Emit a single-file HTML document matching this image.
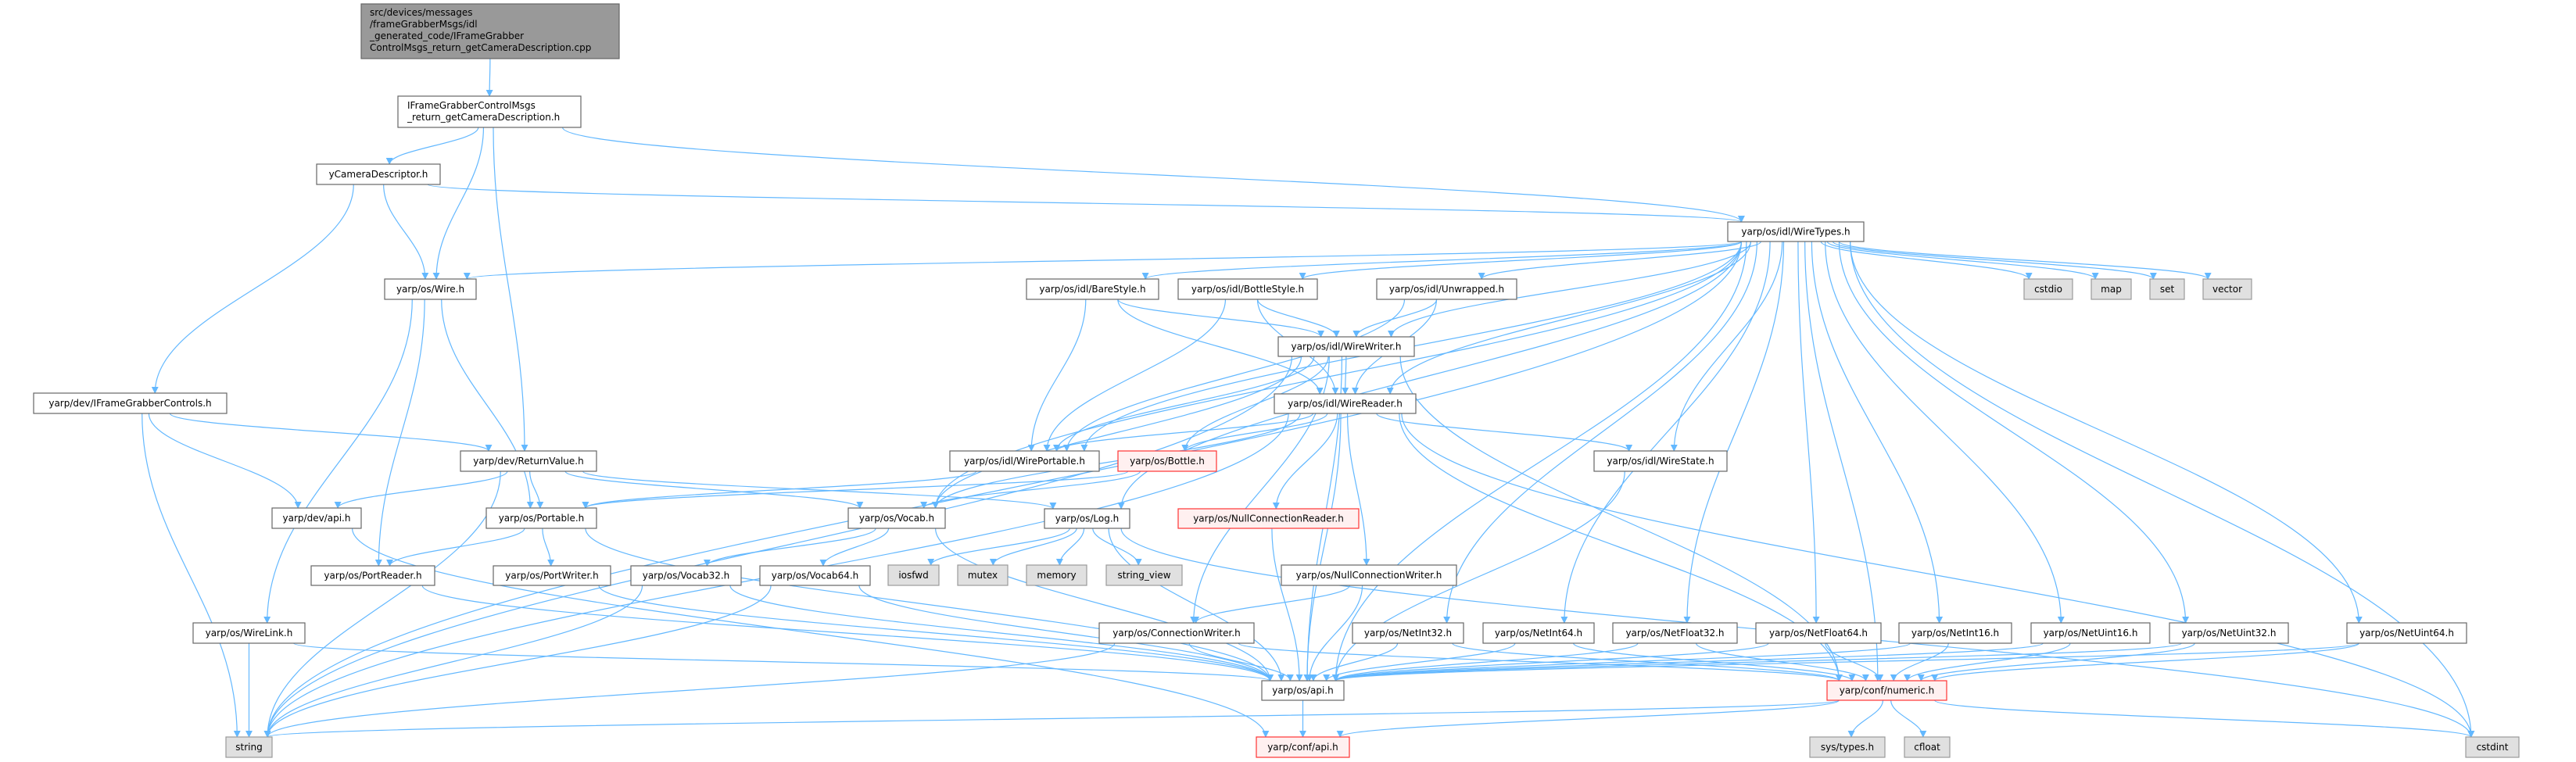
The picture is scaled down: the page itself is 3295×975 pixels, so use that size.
<!DOCTYPE html>
<html><head><meta charset="utf-8"><style>
html,body{margin:0;padding:0;background:#fff;}
svg{display:block;}
text{font-family:"DejaVu Sans","Liberation Sans",sans-serif;font-size:12px;fill:#000;}
.n{fill:#fff;stroke:#666;stroke-width:1.2}
.g{fill:#e0e0e0;stroke:#999;stroke-width:1.2}
.r{fill:#fff0f0;stroke:#f33;stroke-width:1.2}
.t{fill:#999;stroke:#666;stroke-width:1.2}
.e{fill:none;stroke:#63b8ff;stroke-width:1.2}
</style></head><body>
<svg id="s" width="3295" height="975" viewBox="0 0 3295 975" xmlns="http://www.w3.org/2000/svg">
<defs><marker id="a" viewBox="0 0 10 10" refX="9" refY="5" markerWidth="9" markerHeight="9" markerUnits="userSpaceOnUse" orient="auto"><path d="M0,0 L10,5 L0,10 z" fill="#63b8ff"/></marker></defs>
<g id="edges"></g>
<g id="nodes">
<rect class="t" x="462" y="5" width="330" height="70"/>
<text x="473" y="20">src/devices/messages</text>
<text x="473" y="35">/frameGrabberMsgs/idl</text>
<text x="473" y="50">_generated_code/IFrameGrabber</text>
<text x="473" y="65">ControlMsgs_return_getCameraDescription.cpp</text>
<rect class="n" x="509" y="123" width="234" height="40"/>
<text x="521" y="139">IFrameGrabberControlMsgs</text>
<text x="521" y="154">_return_getCameraDescription.h</text>
</g>
</svg>
<script>
var N={
ycam:[405,210,563,236,"yCameraDescriptor.h","n"],
wire:[492,357,609,383,"yarp/os/Wire.h","n"],
ifgc:[43,503,290,529,"yarp/dev/IFrameGrabberControls.h","n"],
rv:[589,577,763,603,"yarp/dev/ReturnValue.h","n"],
devapi:[348,650,462,676,"yarp/dev/api.h","n"],
portable:[622,650,763,676,"yarp/os/Portable.h","n"],
preader:[398,724,556,749,"yarp/os/PortReader.h","n"],
pwriter:[631,724,781,749,"yarp/os/PortWriter.h","n"],
v32:[807,724,948,749,"yarp/os/Vocab32.h","n"],
v64:[972,724,1113,749,"yarp/os/Vocab64.h","n"],
wlink:[247,797,390,823,"yarp/os/WireLink.h","n"],
string:[289,943,348,969,"string","g"],
vocab:[1085,650,1209,676,"yarp/os/Vocab.h","n"],
bare:[1313,357,1482,383,"yarp/os/idl/BareStyle.h","n"],
bottles:[1507,357,1685,383,"yarp/os/idl/BottleStyle.h","n"],
unwr:[1761,357,1940,383,"yarp/os/idl/Unwrapped.h","n"],
ww:[1635,431,1809,456,"yarp/os/idl/WireWriter.h","n"],
wr:[1630,504,1811,529,"yarp/os/idl/WireReader.h","n"],
wt:[2210,284,2384,309,"yarp/os/idl/WireTypes.h","n"],
cstdio:[2589,357,2651,383,"cstdio","g"],
map:[2675,357,2726,383,"map","g"],
set:[2750,357,2794,383,"set","g"],
vector:[2818,357,2880,383,"vector","g"],
wp:[1215,577,1406,603,"yarp/os/idl/WirePortable.h","n"],
bottle:[1430,577,1556,603,"yarp/os/Bottle.h","r"],
ws:[2039,577,2209,603,"yarp/os/idl/WireState.h","n"],
log:[1336,651,1445,676,"yarp/os/Log.h","n"],
ncr:[1507,651,1738,676,"yarp/os/NullConnectionReader.h","r"],
iosfwd:[1136,723,1201,749,"iosfwd","g"],
mutex:[1225,723,1289,749,"mutex","g"],
memory:[1313,723,1390,749,"memory","g"],
sv:[1415,723,1512,749,"string_view","g"],
ncw:[1639,723,1863,749,"yarp/os/NullConnectionWriter.h","n"],
cw:[1406,797,1604,823,"yarp/os/ConnectionWriter.h","n"],
ni32:[1730,797,1872,823,"yarp/os/NetInt32.h","n"],
ni64:[1897,797,2039,823,"yarp/os/NetInt64.h","n"],
nf32:[2063,797,2222,823,"yarp/os/NetFloat32.h","n"],
nf64:[2246,797,2406,823,"yarp/os/NetFloat64.h","n"],
ni16:[2429,797,2573,823,"yarp/os/NetInt16.h","n"],
nu16:[2598,797,2750,823,"yarp/os/NetUint16.h","n"],
nu32:[2775,797,2927,823,"yarp/os/NetUint32.h","n"],
nu64:[3002,797,3155,823,"yarp/os/NetUint64.h","n"],
osapi:[1614,871,1719,896,"yarp/os/api.h","n"],
confapi:[1607,943,1726,969,"yarp/conf/api.h","r"],
numeric:[2337,871,2490,896,"yarp/conf/numeric.h","r"],
systypes:[2315,943,2411,969,"sys/types.h","g"],
cfloat:[2436,943,2494,969,"cfloat","g"],
cstdint:[3154,943,3222,969,"cstdint","g"],
top:[462,5,792,75],ret:[509,123,743,163]
};
var E="top ret|ret ycam|ret wire|ret rv|ret wt|ycam wire|ycam ifgc|ycam wt|ifgc string|ifgc devapi|ifgc rv|rv string|rv devapi|rv portable|rv vocab|rv log|wire wlink|wire preader|wire portable|devapi confapi|portable preader|portable pwriter|portable osapi|preader osapi|pwriter osapi|v32 string|v32 osapi|v64 string|v64 osapi|wlink string|wlink osapi|vocab v32|vocab v64|vocab osapi|log iosfwd|log mutex|log memory|log sv|log osapi|log cstdint|wt string|wt wire|wt bare|wt bottles|wt unwr|wt ww|wt wr|wt wp|wt ws|wt log|wt vocab|wt cstdio|wt map|wt set|wt vector|wt ni16|wt nu16|wt nu32|wt nu64|wt ni32|wt ni64|wt nf32|wt nf64|wt cstdint|wt osapi|wt numeric|bare ww|bare wr|bare wp|bottles ww|bottles wr|bottles wp|unwr ww|unwr wr|unwr wp|ww wr|ww wp|ww bottle|ww vocab|ww string|ww osapi|ww cw|ww numeric|wr wp|wr bottle|wr vocab|wr ncr|wr ncw|wr ws|wr string|wr osapi|wr numeric|wr cstdint|wp portable|bottle vocab|bottle portable|ws osapi|ncr osapi|ncw cw|ncw osapi|cw string|cw osapi|cw numeric|ni32 osapi|ni32 numeric|ni64 osapi|ni64 numeric|nf32 osapi|nf32 numeric|nf64 osapi|nf64 numeric|ni16 osapi|ni16 numeric|nu16 osapi|nu16 numeric|nu32 osapi|nu32 numeric|nu64 osapi|nu64 numeric|osapi confapi|numeric string|numeric confapi|numeric systypes|numeric cfloat|numeric cstdint";
var NS="http://www.w3.org/2000/svg",eg=document.getElementById("edges"),ng=document.getElementById("nodes");
function cl(v,a){return Math.max(-a,Math.min(a,v));}
E.split("|").forEach(function(p){
 var q=p.split(" "),s=N[q[0]],t=N[q[1]],d;
 var scx=(s[0]+s[2])/2,tcx=(t[0]+t[2])/2,scy=(s[1]+s[3])/2,tcy=(t[1]+t[3])/2;
 if(t[1]<s[3]+30){
  var sx,tx,k;
  if(tcx>scx){sx=s[2];tx=t[0];}else{sx=s[0];tx=t[2];}
  k=(tx-sx)*0.4;
  d="M"+sx+","+scy+" C"+(sx+k)+","+scy+" "+(tx-k)+","+tcy+" "+tx+","+tcy;
 }else{
  var sw=(s[2]-s[0])*0.4,tw=(t[2]-t[0])*0.4;
  var x1=scx+cl((tcx-scx)*0.1,sw),x2=tcx+cl((scx-tcx)*0.1,tw),y1=s[3],y2=t[1],dy=y2-y1;
  d="M"+x1+","+y1+" C"+x1+","+(y1+dy*0.4)+" "+x2+","+(y2-dy*0.4)+" "+x2+","+y2;
 }
 var e=document.createElementNS(NS,"path");e.setAttribute("d",d);e.setAttribute("class","e");e.setAttribute("marker-end","url(#a)");eg.appendChild(e);
});
</script>
<svg width="0" height="0" style="position:absolute;left:0;top:0"></svg>
<script>
(function(){
var NS="http://www.w3.org/2000/svg",ng=document.getElementById("nodes");
var L=document.querySelectorAll("#lbl span");
})();
</script>
<div id="lbl" style="display:none"></div>
<script>
(function(){
var NS="http://www.w3.org/2000/svg",ng=document.getElementById("nodes");
for(var k in N){var n=N[k];if(!n[4])continue;
 var r=document.createElementNS(NS,"rect");r.setAttribute("x",n[0]);r.setAttribute("y",n[1]);r.setAttribute("width",n[2]-n[0]);r.setAttribute("height",n[3]-n[1]);r.setAttribute("class",n[5]);ng.appendChild(r);
 var t=document.createElementNS(NS,"text");t.setAttribute("x",(n[0]+n[2])/2);t.setAttribute("y",(n[1]+n[3])/2+4);t.setAttribute("text-anchor","middle");t.textContent=n[4];ng.appendChild(t);}
})();
</script>
</body></html>
